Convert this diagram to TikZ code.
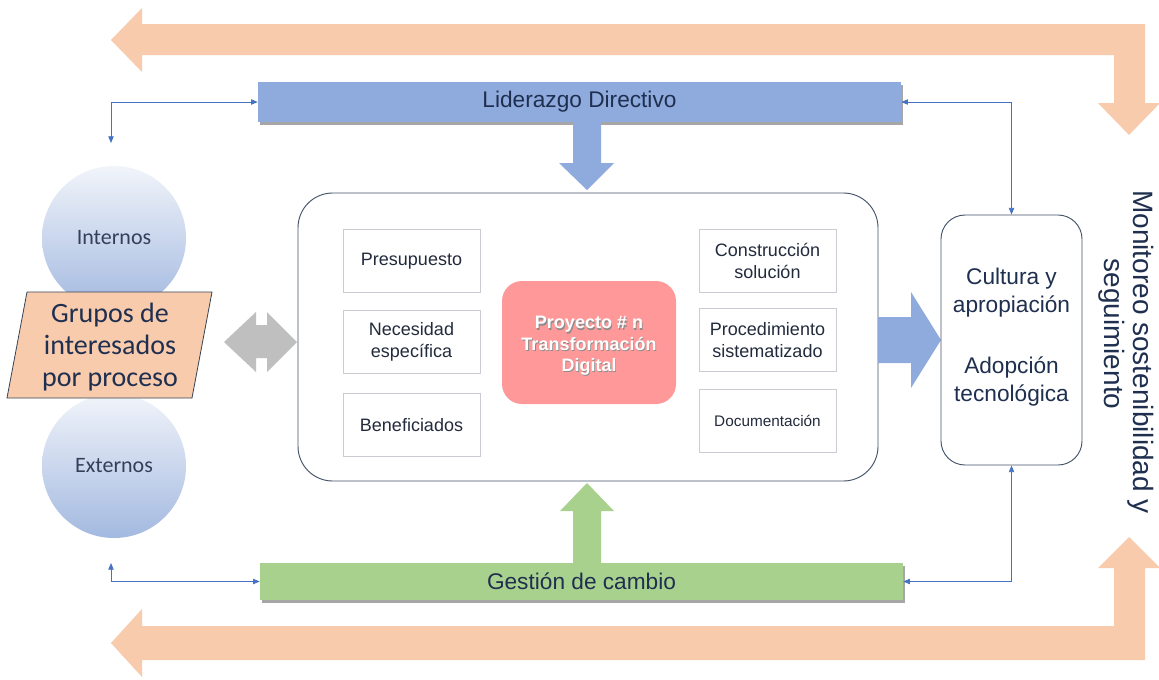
\documentclass[tikz,border=0pt]{standalone}
\usepackage{fontspec}
\setmainfont{Liberation Sans}
\newfontfamily\calib{Carlito}
\usetikzlibrary{arrows.meta,shadows}
\definecolor{orng}{HTML}{F8CBAD}
\definecolor{blu}{HTML}{8FAADC}
\definecolor{grn}{HTML}{A9D18E}
\definecolor{gry}{HTML}{BFBFBF}
\definecolor{pnk}{HTML}{FF9999}
\definecolor{navy}{HTML}{1F2F4F}
\definecolor{ink}{HTML}{222B3C}
\definecolor{conncol}{HTML}{4472C4}
\definecolor{frame}{HTML}{44546A}
\definecolor{boxgray}{HTML}{C9CCD2}
\definecolor{cirtop}{HTML}{F1F4FA}
\definecolor{cirbot}{HTML}{A3B9E0}
\definecolor{cirtext}{HTML}{34405A}
\begin{document}
\begin{tikzpicture}[x=0.75pt,y=-0.75pt,
  bar/.style={draw=none,inner sep=0pt,text=navy,minimum width=482.25pt,
    font=\fontsize{17}{20}\selectfont,
    drop shadow={shadow xshift=1.5pt,shadow yshift=-2pt,opacity=0.35,fill=black}},
  ibox/.style={draw=boxgray,line width=0.6pt,minimum width=102.75pt,minimum height=47.25pt,
    align=center,inner sep=1pt,text=ink,font=\fontsize{13.5}{16.5}\selectfont},
  circ/.style={circle,minimum size=108pt,inner sep=0pt,draw=none,shading=axis,
    top color=cirtop,bottom color=cirbot,text=cirtext,font=\calib\fontsize{16.5}{19}\selectfont},
  conn/.style={draw=conncol,line width=0.6pt,{Triangle[length=5pt,width=4pt]}-{Triangle[length=5pt,width=4pt]}}]
\useasboundingbox (0,0) rectangle (1159,679);
\fill[white] (0,0) rectangle (1159,679);

% orange loop arrows
\fill[orng] (111,40) -- (142,8) -- (142,24) -- (1145,24) -- (1145,103) -- (1160,103)
  -- (1129,135) -- (1098,103) -- (1114,103) -- (1114,55) -- (142,55) -- (142,72) -- cycle;
\fill[orng] (111,643) -- (142,609) -- (142,626) -- (1114,626) -- (1114,568) -- (1098,568)
  -- (1129,537) -- (1160,568) -- (1145,568) -- (1145,660) -- (142,660) -- (142,677) -- cycle;

% circles
\node[circ] (int) at (114,238) {Internos};
\node[circ] (ext) at (114,466) {Externos};

% parallelogram
\fill[orng] (27,292) -- (212,292) -- (192,398) -- (7,398) -- cycle;
\draw[frame!80!black,line width=0.6pt] (27,292) -- (212,292) -- (192,398) -- (7,398) -- cycle;
\node[align=center,text=navy,font=\calib\fontsize{21}{24}\selectfont] (grp) at (110,347)
  {Grupos de\\interesados\\por proceso};

% bars
\node[bar,fill=blu,minimum height=30pt] (lid) at (579.5,102) {Liderazgo Directivo};
\node[bar,fill=grn,minimum height=27.75pt] (gest) at (581.5,581.5) {Gestión de cambio};

% main box
\node[draw=frame,line width=0.7pt,rounded corners=26pt,minimum width=435pt,minimum height=216pt,fill=white] (main) at (588,337) {};

% block arrows
\fill[blu] (573,122) -- (601,122) -- (601,163) -- (614,163) -- (587,190) -- (559,163) -- (573,163) -- cycle;
\fill[grn] (573,563) -- (573,511) -- (560,511) -- (587,483) -- (614,511) -- (601,511) -- (601,563) -- cycle;
\fill[blu] (878,317) -- (911,317) -- (911,292) -- (941,340) -- (911,388) -- (911,363) -- (878,363) -- cycle;
\fill[gry] (224,342) -- (256,312) -- (256,325) -- (267,325) -- (267,312) -- (297,342)
  -- (267,372) -- (267,358) -- (256,358) -- (256,372) -- cycle;

% inner boxes
\node[ibox] (pres) at (411.5,261) {Presupuesto};
\node[ibox] (nec) at (411.5,342) {Necesidad\\específica};
\node[ibox] (ben) at (411.5,425) {Beneficiados};
\node[ibox] (cons) at (767.5,261) {Construcción\\solución};
\node[ibox] (proc) at (767.5,340) {Procedimiento\\sistematizado};
\node[ibox,font=\fontsize{11.5}{14}\selectfont] (doc) at (767.5,421) {Documentación};

% project
\node[fill=pnk,draw=none,rounded corners=15pt,minimum width=130.5pt,minimum height=92.25pt] (proy) at (589,342.5) {};
\node[align=center,text=black!45,font=\bfseries\fontsize{13.5}{16}\selectfont] at (589.8,347.3)
  {Proyecto \# n\\Transformación\\Digital};
\node[align=center,text=white,font=\bfseries\fontsize{13.5}{16}\selectfont] (proyt) at (589,346)
  {Proyecto \# n\\Transformación\\Digital};

% cultura box
\node[draw=frame,line width=0.7pt,rounded corners=18pt,minimum width=105.75pt,minimum height=187.5pt] (cult) at (1011.5,340) {};
\node[align=center,text=navy,font=\fontsize{17}{21}\selectfont] (cultt) at (1011.5,337)
  {Cultura y\\apropiación\\[25pt]Adopción\\tecnológica};

% monitoreo
\node[rotate=-90,text=navy,font=\fontsize{21}{22}\selectfont,inner sep=0pt] (mon1) at (1141,352) {Monitoreo sostenibilidad y};
\node[rotate=-90,text=navy,font=\fontsize{21}{22}\selectfont,inner sep=0pt] (mon2) at (1112,334) {seguimiento};

% connectors
\coordinate (tl) at (111,143);
\coordinate (bl) at (111,563);
\draw[conn] (tl) |- (lid.west);
\draw[conn] (lid.east) -| (cult.north);
\draw[conn] (bl) |- (gest.west);
\draw[conn] (gest.east) -| (cult.south);
\end{tikzpicture}
\end{document}
